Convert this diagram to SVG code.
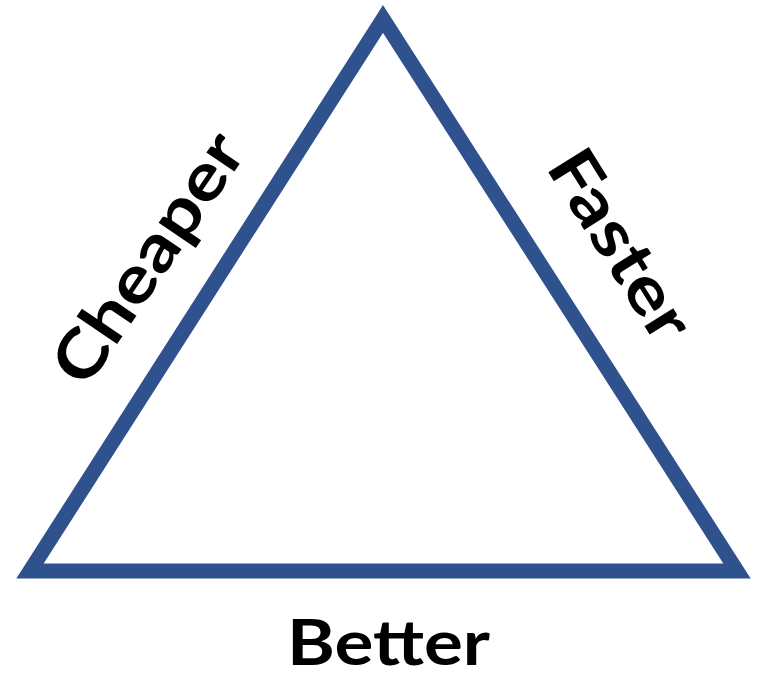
<svg xmlns="http://www.w3.org/2000/svg" width="759" height="677" viewBox="0 0 759 677">
<style>
.lbl{font-family:Lato,"Open Sans","Liberation Sans",sans-serif;font-weight:bold;font-size:63px;fill:#000}
.side{font-size:66px}
</style>
<rect width="759" height="677" fill="#fff"/>
<g id="triangle">
<polygon points="383,19 30,571 737,571" fill="none" stroke="#2F528F" stroke-width="15" stroke-linejoin="miter"/>
</g>
<g id="cheaper"><text class="lbl side" transform="translate(86,390) rotate(-55.8)" textLength="288" lengthAdjust="spacingAndGlyphs">Cheaper</text></g>
<g id="faster"><text class="lbl side" transform="translate(545,167) rotate(58)" textLength="212" lengthAdjust="spacingAndGlyphs">Faster</text></g>
<g id="better"><text class="lbl" x="287" y="665" textLength="203" lengthAdjust="spacingAndGlyphs">Better</text></g>
</svg>
